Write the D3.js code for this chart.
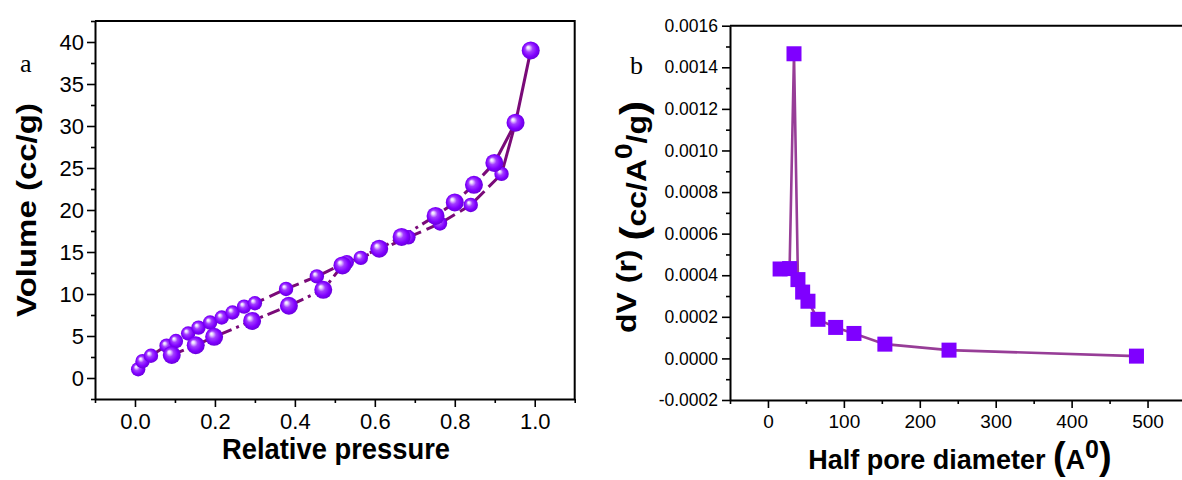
<!DOCTYPE html>
<html><head><meta charset="utf-8">
<script src="https://cdn.jsdelivr.net/npm/d3@7"></script>
<style>body{margin:0;background:#fff}svg{display:block}</style>
</head><body>
<svg id="c" width="1182" height="480"></svg>
<script>
// ---------- Panel a : N2 isotherm ----------
const branchLargeP = [0.092,0.152,0.198,0.293,0.385,0.471,0.519,0.611,0.667,0.752,0.800,0.848,0.899,0.952,0.990];
const branchLargeV = [2.74,3.9,4.9,6.8,8.6,10.5,13.4,15.4,16.8,19.3,20.9,23.0,25.6,30.4,39.0];
const branchSmallP = [0.008,0.019,0.040,0.079,0.1025,0.133,0.159,0.188,0.217,0.244,0.273,0.300,0.378,0.455,0.530,0.565,0.684,0.763,0.840,0.917,0.952];
const branchSmallV = [1.04,2.0,2.65,3.85,4.4,5.3,6.0,6.6,7.2,7.8,8.5,8.9,10.6,12.1,13.8,14.3,16.75,18.4,20.6,24.3,30.4];
const aTicksX = [0,0.2,0.4,0.6,0.8,1.0];
const aMinorX = [-0.1,0.1,0.3,0.5,0.7,0.9,1.1];
const aTicksY = [0,5,10,15,20,25,30,35,40];
const aMinorY = [-2.5,2.5,7.5,12.5,17.5,22.5,27.5,32.5,37.5,42.5];

// ---------- Panel b : pore size distribution ----------
const halfPore = [16,28.5,34.3,39.5,45.7,52.7,65.9,89.2,113.3,154,238.5,485.4];
const dVr = [0.000430,0.000432,0.001465,0.000379,0.000319,0.000275,0.000188,0.000149,0.000120,0.0000686,0.0000398,0.000011];
const bTicksX = [0,100,200,300,400,500];
const bMinorX = [-50,50,150,250,350,450,550];
const bTicksY = [-0.0002,0,0.0002,0.0004,0.0006,0.0008,0.0010,0.0012,0.0014,0.0016];
const bMinorY = [-0.0001,0.0001,0.0003,0.0005,0.0007,0.0009,0.0011,0.0013,0.0015];

const svg = d3.select("#c");
const SANS = '"Liberation Sans", Arial, sans-serif';
const SERIF = '"Liberation Serif", "Times New Roman", serif';
svg.append("rect").attr("width",1182).attr("height",480).attr("fill","#fff");

// sphere gradient
const defs = svg.append("defs");
const grad = defs.append("radialGradient").attr("id","sph")
  .attr("cx","50%").attr("cy","50%").attr("r","55%").attr("fx","34%").attr("fy","32%");
[["0%","#ffffff"],["14%","#e9d6ff"],["38%","#a23cff"],["70%","#8000ff"],["100%","#6200d0"]]
  .forEach(s=>grad.append("stop").attr("offset",s[0]).attr("stop-color",s[1]));

function styleAxis(g, fs){
  g.attr("font-family",SANS).attr("font-size",fs);
  g.selectAll("path.domain").attr("stroke","#000").attr("stroke-width",2);
  g.selectAll(".tick line").attr("stroke","#000").attr("stroke-width",1.6);
  g.selectAll(".tick text").attr("fill","#000");
}

// ===== Panel a =====
const xA = d3.scaleLinear().domain([-0.1,1.1]).range([95,574.7]);
const yA = d3.scaleLinear().domain([-2.5,42.5]).range([399,21]);

// frame (top/right)
svg.append("path").attr("d",`M${xA(-0.1)},${yA(42.5)}H${xA(1.1)}V${yA(-2.5)}`)
  .attr("fill","none").attr("stroke","#000").attr("stroke-width",2);

const gxA = svg.append("g").attr("transform",`translate(0,${yA(-2.5)})`)
  .call(d3.axisBottom(xA).tickValues(aTicksX).tickSize(8).tickSizeOuter(0).tickPadding(6).tickFormat(d3.format(".1f")));
styleAxis(gxA,22);
const gxAm = svg.append("g").attr("transform",`translate(0,${yA(-2.5)})`)
  .call(d3.axisBottom(xA).tickValues(aMinorX).tickSize(4).tickSizeOuter(0).tickFormat(""));
gxAm.select("path.domain").remove(); styleAxis(gxAm,10);

const gyA = svg.append("g").attr("transform",`translate(${xA(-0.1)},0)`)
  .call(d3.axisLeft(yA).tickValues(aTicksY).tickSize(8).tickSizeOuter(0).tickPadding(3).tickFormat(d3.format("d")));
styleAxis(gyA,22);
const gyAm = svg.append("g").attr("transform",`translate(${xA(-0.1)},0)`)
  .call(d3.axisLeft(yA).tickValues(aMinorY).tickSize(4).tickSizeOuter(0).tickFormat(""));
gyAm.select("path.domain").remove(); styleAxis(gyAm,10);

const lineA = d3.line().x(d=>xA(d[0])).y(d=>yA(d[1]));
const smallPts = branchSmallP.map((p,i)=>[p,branchSmallV[i]]);
const largePts = branchLargeP.map((p,i)=>[p,branchLargeV[i]]);
// the last segments near saturation are drawn solid, the rest dashed
function drawBranch(pts, dash){
  const k = pts.findIndex(d=>d[0] > 0.89);
  svg.append("path").attr("d",lineA(pts.slice(0,k+1))).attr("fill","none")
    .attr("stroke","#7a0a78").attr("stroke-width",3).attr("stroke-dasharray",dash);
  svg.append("path").attr("d",lineA(pts.slice(k))).attr("fill","none")
    .attr("stroke","#7a0a78").attr("stroke-width",3);
}
drawBranch(smallPts,"13,6");
drawBranch(largePts,"13,5,3,5");

svg.append("g").selectAll("circle").data(smallPts).join("circle")
  .attr("cx",d=>xA(d[0])).attr("cy",d=>yA(d[1])).attr("r",7.2).attr("fill","url(#sph)");
svg.append("g").selectAll("circle").data(largePts).join("circle")
  .attr("cx",d=>xA(d[0])).attr("cy",d=>yA(d[1])).attr("r",9).attr("fill","url(#sph)");

// titles a
svg.append("text").attr("x",336).attr("y",459).attr("text-anchor","middle")
  .attr("font-family",SANS).attr("font-weight","bold").attr("font-size",30)
  .attr("textLength",228).attr("lengthAdjust","spacingAndGlyphs")
  .text("Relative pressure");
svg.append("text").attr("transform","translate(36,210) scale(0.85,1) rotate(-90)")
  .attr("text-anchor","middle").attr("font-family",SANS).attr("font-weight","bold").attr("font-size",33)
  .text("Volume (cc/g)");
svg.append("text").attr("x",20).attr("y",72).attr("font-family",SERIF).attr("font-size",26).text("a");

// ===== Panel b =====
const xB = d3.scaleLinear().domain([-50,550]).range([730,1185.5]);
const yB = d3.scaleLinear().domain([-0.0002,0.0016]).range([400,25.7]);
const fmtB = d3.formatLocale({decimal:".",thousands:",",grouping:[3],currency:["",""],minus:"-"}).format(".4f");

svg.append("path").attr("d",`M${xB(-50)},${yB(0.0016)}H1182`)
  .attr("fill","none").attr("stroke","#000").attr("stroke-width",2);

const gxB = svg.append("g").attr("transform",`translate(0,${yB(-0.0002)})`)
  .call(d3.axisBottom(xB).tickValues(bTicksX).tickSize(8).tickSizeOuter(0).tickPadding(7).tickFormat(d3.format("d")));
styleAxis(gxB,19);
const gxBm = svg.append("g").attr("transform",`translate(0,${yB(-0.0002)})`)
  .call(d3.axisBottom(xB).tickValues(bMinorX).tickSize(4).tickSizeOuter(0).tickFormat(""));
gxBm.select("path.domain").remove(); styleAxis(gxBm,10);

const gyB = svg.append("g").attr("transform",`translate(${xB(-50)},0)`)
  .call(d3.axisLeft(yB).tickValues(bTicksY).tickSize(8).tickSizeOuter(0).tickPadding(4).tickFormat(fmtB));
styleAxis(gyB,17.5);
const gyBm = svg.append("g").attr("transform",`translate(${xB(-50)},0)`)
  .call(d3.axisLeft(yB).tickValues(bMinorY).tickSize(4).tickSizeOuter(0).tickFormat(""));
gyBm.select("path.domain").remove(); styleAxis(gyBm,10);

const ptsB = halfPore.map((r,i)=>[r,dVr[i]]);
svg.append("path").attr("d",d3.line().x(d=>xB(d[0])).y(d=>yB(d[1]))(ptsB))
  .attr("fill","none").attr("stroke","#973d97").attr("stroke-width",2.6);
svg.append("g").selectAll("rect").data(ptsB).join("rect")
  .attr("x",d=>xB(d[0])-7.5).attr("y",d=>yB(d[1])-7.5).attr("width",15).attr("height",15)
  .attr("fill","#7f00ff");

// titles b
const tx = svg.append("text").attr("x",960).attr("y",469).attr("text-anchor","middle")
  .attr("font-family",SANS).attr("font-weight","bold").attr("font-size",27);
tx.append("tspan").text("Half pore diameter ");
tx.append("tspan").attr("font-size",38).text("(");
tx.append("tspan").text("A");
tx.append("tspan").attr("font-size",25).attr("dy",-11).text("0");
tx.append("tspan").attr("font-size",38).attr("dy",11).text(")");

const ty = svg.append("text").attr("transform","translate(636,217) scale(0.87,1) rotate(-90)")
  .attr("text-anchor","middle").attr("font-family",SANS).attr("font-weight","bold").attr("font-size",32);
ty.append("tspan").text("dV (r) ");
ty.append("tspan").attr("font-size",42).attr("dy",12).text("(");
ty.append("tspan").text("cc/A");
ty.append("tspan").attr("font-size",28).attr("dy",-17).text("0");
ty.append("tspan").attr("dy",17).text("/g");
ty.append("tspan").attr("font-size",42).text(")");

svg.append("text").attr("x",630).attr("y",74).attr("font-family",SERIF).attr("font-size",26).text("b");
</script>
</body></html>
